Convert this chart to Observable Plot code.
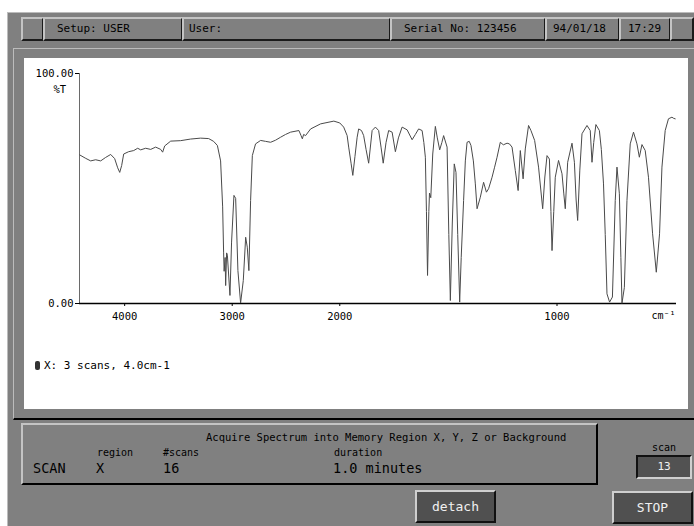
<!DOCTYPE html>
<html>
<head>
<meta charset="utf-8">
<script src="https://cdn.jsdelivr.net/npm/d3@7"></script>
<script src="https://cdn.jsdelivr.net/npm/@observablehq/plot@0.6"></script>
<style>
  html, body { margin: 0; padding: 0; background: #ffffff; }
  body { width: 694px; height: 526px; position: relative; overflow: hidden; font-family: "DejaVu Sans Mono", monospace; color: #000; }
  .abs { position: absolute; box-sizing: border-box; }
  #outer { left: 7px; top: 12px; width: 687px; height: 514px; background: #808080; border-left: 1px solid #bcbcbc; border-top: 1px solid #bcbcbc; }
  .cell { top: 17px; height: 24px; border-top: 2px solid #c4c4c4; border-left: 2px solid #c4c4c4; border-bottom: 2px solid #1a1a1a; border-right: 2px solid #1a1a1a; background: #808080; font-size: 11px; line-height: 20px; white-space: nowrap; }
  #frame { left: 13px; top: 48px; width: 681px; height: 372px; border-top: 1px solid #bcbcbc; border-left: 1px solid #bcbcbc; border-bottom: 2px solid #000; }
  #white { left: 24px; top: 58px; width: 664px; height: 351px; background: #fff; }
  #panel { left: 21px; top: 423px; width: 577px; height: 62px; border-top: 2px solid #c4c4c4; border-left: 2px solid #c4c4c4; border-bottom: 2px solid #000; border-right: 2px solid #000; }
  .t { position: absolute; white-space: nowrap; line-height: 1; }
  .btn { background: #505050; border-top: 2px solid #cfcfcf; border-left: 2px solid #cfcfcf; border-bottom: 2px solid #111; border-right: 2px solid #111; color: #f0f0f0; font-size: 13px; text-align: center; }
</style>
</head>
<body>
<div id="outer" class="abs"></div>
<div class="abs cell" style="left:21px;width:23px;"></div>
<div class="abs cell" style="left:43px;width:140px;padding-left:12px;">Setup: USER</div>
<div class="abs cell" style="left:182px;width:209px;padding-left:5px;">User:</div>
<div class="abs cell" style="left:390px;width:156px;padding-left:12px;">Serial No: 123456</div>
<div class="abs cell" style="left:545px;width:75px;padding-left:6px;">94/01/18</div>
<div class="abs cell" style="left:619px;width:52px;padding-left:7px;">17:29</div>
<div class="abs cell" style="left:670px;width:24px;"></div>
<div id="frame" class="abs"></div>
<div id="white" class="abs"><div id="chart"></div></div>
<div class="t" style="left:35px;top:361px;width:5px;height:9px;background:#333;border-radius:2px;"></div>
<div class="t" style="left:44px;top:360px;font-size:11px;">X: 3 scans, 4.0cm-1</div>
<div id="panel" class="abs"></div>
<div class="t" style="left:206px;top:432px;font-size:10.5px;">Acquire Spectrum into Memory Region X, Y, Z or Background</div>
<div class="t" style="left:97px;top:448px;font-size:10px;">region</div>
<div class="t" style="left:163px;top:448px;font-size:10px;">#scans</div>
<div class="t" style="left:334px;top:448px;font-size:10px;">duration</div>
<div class="t" style="left:33px;top:462px;font-size:13.5px;">SCAN</div>
<div class="t" style="left:96px;top:462px;font-size:13.5px;">X</div>
<div class="t" style="left:163px;top:462px;font-size:13.5px;">16</div>
<div class="t" style="left:333px;top:462px;font-size:13.5px;">1.0 minutes</div>
<div class="t" style="left:652px;top:443px;font-size:10px;">scan</div>
<div class="abs" style="left:636px;top:455px;width:56px;height:24px;background:#525252;border-top:2px solid #111;border-left:2px solid #111;border-bottom:2px solid #cfcfcf;border-right:2px solid #cfcfcf;color:#f0f0f0;font-size:11px;line-height:20px;text-align:center;">13</div>
<div class="abs btn" style="left:415px;top:490px;width:81px;height:33px;line-height:29px;">detach</div>
<div class="abs btn" style="left:612px;top:491px;width:81px;height:33px;line-height:29px;">STOP</div>
<script>
const wavenumber = [4418,4362,4316,4270,4223,4177,4130,4093,4065,4046,4028,4009,3963,3916,3879,3851,3805,3758,3712,3665,3647,3628,3572,3480,3387,3294,3219,3173,3138,3108,3089,3080,3075,3066,3061,3052,3045,3021,3006,2984,2968,2947,2922,2897,2875,2860,2845,2829,2813,2783,2736,2690,2643,2597,2550,2504,2457,2380,2360,2348,2336,2318,2271,2178,2055,2000,1982,1966,1959,1948,1940,1930,1920,1913,1900,1890,1879,1867,1851,1836,1821,1810,1800,1787,1775,1759,1744,1730,1713,1690,1667,1652,1637,1621,1613,1606,1601,1596,1590,1587,1581,1572,1560,1551,1540,1530,1522,1506,1498,1491,1482,1473,1465,1457,1448,1441,1430,1422,1414,1404,1396,1385,1376,1368,1353,1338,1325,1315,1299,1288,1276,1261,1247,1230,1219,1207,1192,1179,1169,1156,1146,1131,1120,1103,1085,1066,1056,1046,1035,1028,1023,1015,1008,993,977,969,962,951,931,920,912,905,895,885,862,847,839,831,821,805,796,786,778,770,758,745,738,732,724,713,706,701,690,678,663,648,632,621,609,594,579,560,543,528,517,502,487,471,463,456];
const transmittance = [64.6,63.1,62.0,62.5,62.0,63.5,64.8,63.0,59.0,57.0,60.0,65.0,66.0,66.5,67.5,66.8,67.5,67.0,68.0,67.0,65.8,68.5,70.6,70.8,71.5,71.9,71.7,70.5,68.7,62.0,42.0,22.0,14.0,20.0,7.8,22.0,21.0,3.5,26.7,47.0,45.7,14.3,0.2,10.0,28.8,24.5,14.3,44.8,64.3,69.4,70.9,70.5,70.1,71.0,72.3,73.5,74.5,75.2,73.0,71.6,73.5,73.0,75.9,78.1,79.3,78.5,76.7,73.0,68.0,61.0,55.7,64.0,72.3,75.9,75.2,73.0,67.0,61.0,75.2,76.7,75.2,68.0,61.0,70.0,75.2,74.5,66.0,72.0,76.7,75.5,71.2,73.5,75.9,75.2,70.0,63.6,40.0,12.2,40.0,48.0,46.0,65.0,77.0,72.0,66.8,70.0,73.0,68.0,30.0,1.3,35.0,60.7,57.0,30.0,0.6,20.0,44.8,62.0,70.1,70.5,68.7,62.0,52.0,41.2,46.2,52.7,48.4,49.9,54.9,59.0,63.6,70.1,69.0,69.7,69.4,68.0,57.8,49.1,66.5,54.2,67.2,77.4,75.2,70.9,59.3,41.2,55.0,64.3,62.8,40.0,23.0,40.0,54.9,62.2,56.4,48.0,41.2,61.4,69.7,61.4,45.0,36.1,58.0,73.8,77.4,75.2,61.4,70.0,77.8,75.2,67.0,52.0,30.0,4.2,0.6,2.8,25.0,44.8,59.3,47.7,20.0,0.1,7.0,44.8,69.4,74.5,69.4,63.6,69.1,66.5,54.9,30.3,13.6,30.3,59.3,75.2,80.3,81.0,80.5,80.3];
const xTicks = [4000, 3000, 2000, 1000];
const yTicks = [0, 100];
// axis runs 4420 → 450 cm-1, with the scale doubled below the 2000 cm-1 break
const xStart = 4420, xBreak = 2000, xEnd = 450, expand = 2.02;

const warp = w => w >= xBreak ? (xStart - w) : (xStart - xBreak) + (xBreak - w) * expand;
const warpedTicks = xTicks.map(warp);
const spectrum = wavenumber.map((w, i) => ({w, t: transmittance[i]}));

const chart = Plot.plot({
  width: 664,
  height: 351,
  marginTop: 15,
  marginBottom: 106,
  marginLeft: 55,
  marginRight: 12,
  style: {fontFamily: "DejaVu Sans Mono, monospace", fontSize: "10.5px", background: "#ffffff", color: "#000", overflow: "visible"},
  x: {transform: warp, domain: [warp(xStart), warp(xEnd)]},
  y: {domain: [0, 100]},
  marks: [
    Plot.ruleX([xStart], {stroke: "#6a6a6a", strokeWidth: 1}),
    Plot.ruleY([0], {stroke: "#000", strokeWidth: 1.6}),
    Plot.axisX({ticks: warpedTicks, tickSize: 3, tickPadding: 6, tickFormat: v => String(xTicks[warpedTicks.indexOf(v)]), label: null, stroke: "#000"}),
    Plot.axisY({ticks: yTicks, tickSize: 4, tickPadding: 2, tickFormat: d => d.toFixed(2), label: null, stroke: "#000"}),
    Plot.line(spectrum, {x: "w", y: "t", stroke: "#4a4a4a", strokeWidth: 1}),
    Plot.text(["%T"], {text: d => d, frameAnchor: "top-left", dx: -26, dy: 12, fill: "#000"}),
    Plot.text(["cm⁻¹"], {text: d => d, frameAnchor: "bottom-right", dx: -1, dy: 15, textAnchor: "end", fill: "#000", fontSize: 10})
  ]
});
document.getElementById("chart").appendChild(chart);
</script>
</body>
</html>
